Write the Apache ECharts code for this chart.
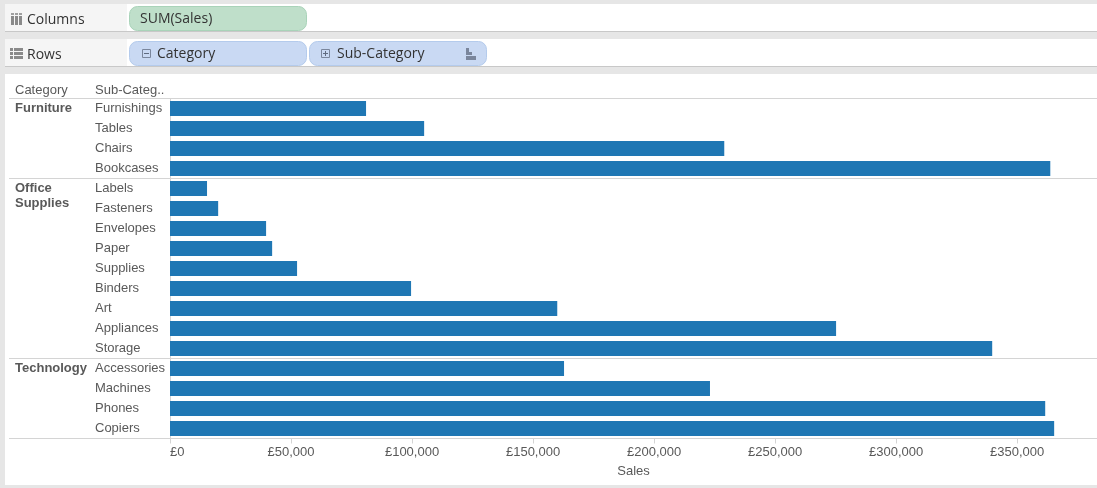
<!DOCTYPE html>
<html>
<head>
<meta charset="utf-8">
<style>
  html, body { margin: 0; padding: 0; background: #e6e6e6; }
  #chart { width: 1097px; height: 488px; }
</style>
<script src="https://cdn.jsdelivr.net/npm/echarts@6/dist/echarts.min.js"></script>
</head>
<body>
<div id="chart"></div>
<script>
const subCategories = ['Furnishings', 'Tables', 'Chairs', 'Bookcases',
  'Labels', 'Fasteners', 'Envelopes', 'Paper', 'Supplies', 'Binders', 'Art', 'Appliances', 'Storage',
  'Accessories', 'Machines', 'Phones', 'Copiers'];
const sales = [81000, 105000, 229000, 363700,
  15300, 19900, 39700, 42200, 52500, 99600, 160000, 275200, 339700,
  162800, 223100, 361600, 365300];
const groupNames = ['Furniture', 'Office\nSupplies', 'Technology'];
const groupStarts = [0, 4, 13];
const xTicks = [0, 50000, 100000, 150000, 200000, 250000, 300000, 350000];

const TEXT = '#595959';
const SHELF_TEXT = '#333333';
const LINE = '#d4d4d4';
const CHART_FONT = '"Liberation Sans", Arial, sans-serif';
const SHELF_FONT = '"Open Sans", "Noto Sans", sans-serif';

const chart = echarts.init(document.getElementById('chart'), null, { renderer: 'canvas' });

chart.setOption({
  animation: false,
  backgroundColor: '#e6e6e6',
  grid: { left: 170, top: 98.5, width: 927, height: 340, containLabel: false },
  xAxis: {
    type: 'value',
    min: 0,
    max: 383000,
    name: 'Sales',
    nameLocation: 'middle',
    nameGap: 26,
    nameTextStyle: { color: TEXT, fontSize: 13, fontFamily: CHART_FONT },
    splitLine: { show: false },
    axisLine: { show: false },
    axisTick: { show: true, length: 5, customValues: xTicks, lineStyle: { color: LINE } },
    axisLabel: {
      customValues: xTicks,
      color: TEXT,
      fontSize: 13,
      fontFamily: CHART_FONT,
      margin: 7,
      alignMinLabel: 'left',
      formatter: v => '£' + v.toLocaleString('en-GB')
    }
  },
  yAxis: {
    type: 'category',
    inverse: true,
    data: subCategories,
    axisLine: { show: true, lineStyle: { color: LINE } },
    axisTick: { show: false },
    axisLabel: {
      interval: 0,
      color: TEXT,
      fontSize: 13,
      fontFamily: CHART_FONT,
      align: 'left',
      margin: 75,
      padding: [0, 0, 2, 0]
    }
  },
  series: [{
    type: 'bar',
    data: sales,
    barWidth: 15,
    itemStyle: { color: '#1f77b4' },
    silent: true
  }]
});

function shelf(y, h) {
  return [
    { type: 'rect', z: -1, shape: { x: 5, y: y, width: 1092, height: h }, style: { fill: '#ffffff' } },
    { type: 'rect', z: -1, shape: { x: 5, y: y, width: 122, height: h }, style: { fill: '#f5f5f5' } },
    { type: 'rect', z: -1, shape: { x: 5, y: y + h - 1, width: 1092, height: 1 }, style: { fill: '#c8c8c8' } }
  ];
}

function pill(x, y, w, h, fill, border) {
  return { type: 'rect', z: 1, shape: { x: x + 0.5, y: y + 0.5, width: w, height: h, r: 8 }, style: { fill: fill, stroke: border, lineWidth: 1 } };
}

function shelfText(text, x, y) {
  return { type: 'text', z: 2, x: x, y: y, style: { text: text, fill: SHELF_TEXT, font: '14px ' + SHELF_FONT, verticalAlign: 'middle' } };
}

function box(x, y, w, h, fill) {
  return { type: 'rect', z: 2, shape: { x: x, y: y, width: w, height: h }, style: { fill: fill } };
}

function hLine(y) {
  return { type: 'line', z: 1, shape: { x1: 9, y1: y, x2: 1097, y2: y }, style: { stroke: LINE, lineWidth: 1 } };
}

function plusMinus(x, y, plus) {
  const items = [
    { type: 'rect', z: 2, shape: { x: x + 0.5, y: y + 0.5, width: 8, height: 8 }, style: { fill: 'none', stroke: '#7a869c', lineWidth: 1 } },
    box(x + 2, y + 4, 5, 1, '#5f6b80')
  ];
  if (plus) items.push(box(x + 4, y + 2, 1, 5, '#5f6b80'));
  return items;
}

const ICON = '#8a8a8a';
const rowY = i => chart.convertToPixel({ yAxisIndex: 0 }, subCategories[i]);
const separators = groupStarts.map(i => Math.floor(rowY(i) - 10) + 0.5);
const lastLine = Math.floor(rowY(subCategories.length - 1) + 10) + 0.5;

const graphics = [
  { type: 'rect', z: -1, shape: { x: 5, y: 74, width: 1092, height: 411 }, style: { fill: '#ffffff' } },
  ...shelf(4, 28),
  ...shelf(39, 28),
  pill(129, 6, 177, 24, '#bfdfca', '#a9d3b9'),
  pill(129, 41, 177, 24, '#c9d9f3', '#b4cbec'),
  pill(309, 41, 177, 24, '#c9d9f3', '#b4cbec'),
  shelfText('Columns', 27, 20),
  shelfText('Rows', 27, 55),
  shelfText('SUM(Sales)', 140, 19),
  shelfText('Category', 157, 54),
  shelfText('Sub-Category', 337, 54),
  // columns icon
  box(11, 13, 3, 2, '#a0a0a0'), box(15, 13, 3, 2, '#a0a0a0'), box(19, 13, 3, 2, '#a0a0a0'),
  box(11, 16, 3, 9, ICON), box(15, 16, 3, 9, ICON), box(19, 16, 3, 9, ICON),
  // rows icon
  box(10, 48, 3, 3, ICON), box(14, 48, 9, 3, ICON),
  box(10, 52, 3, 3, ICON), box(14, 52, 9, 3, ICON),
  box(10, 56, 3, 3, ICON), box(14, 56, 9, 3, ICON),
  ...plusMinus(142, 49, false),
  ...plusMinus(321, 49, true),
  // sort icon
  box(466, 48, 3, 4, '#7a869c'), box(466, 52, 6, 3, '#7a869c'), box(466, 56, 10, 4, '#7a869c'),
  // column headers
  { type: 'text', z: 2, x: 15, y: 90, style: { text: 'Category', fill: TEXT, font: '13px ' + CHART_FONT, verticalAlign: 'middle' } },
  { type: 'text', z: 2, x: 95, y: 90, style: { text: 'Sub-Categ..', fill: TEXT, font: '13px ' + CHART_FONT, verticalAlign: 'middle' } },
  ...separators.map(hLine),
  hLine(lastLine),
  ...groupNames.map((name, i) => ({
    type: 'text',
    z: 2,
    x: 15,
    y: rowY(groupStarts[i]) - 8,
    style: { text: name, fill: TEXT, font: 'bold 13px ' + CHART_FONT, lineHeight: 15, verticalAlign: 'top' }
  }))
];

chart.setOption({ graphic: graphics });
</script>
</body>
</html>
